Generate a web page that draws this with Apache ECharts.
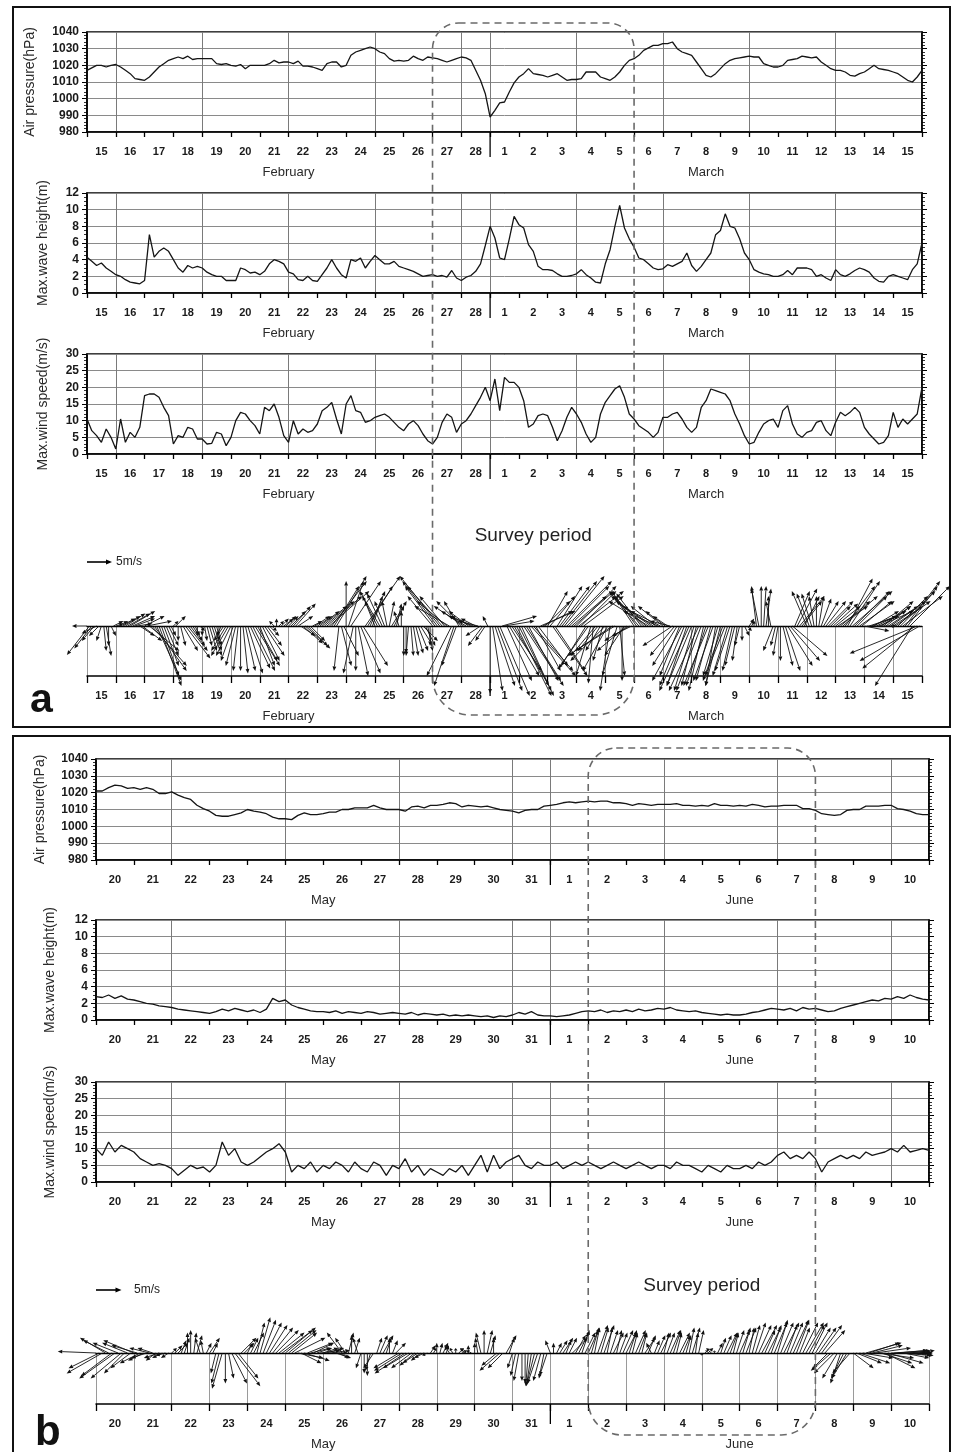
<!DOCTYPE html>
<html>
<head>
<meta charset="utf-8">
<script src="https://cdn.jsdelivr.net/npm/echarts/dist/echarts.min.js"></script>
<style>
  html, body { margin: 0; padding: 0; background: #fff; }
  #chart { width: 954px; height: 1452px; }
</style>
</head>
<body>
<div id="chart"></div>
<script>
// ---- time axes -------------------------------------------------------
const SPD = 6;   // line samples per day (4-hourly)
const VSPD = 12; // wind vectors per day (2-hourly)
const daysA = ['15','16','17','18','19','20','21','22','23','24','25','26','27','28',
               '1','2','3','4','5','6','7','8','9','10','11','12','13','14','15'];
const monthsA = [{ name: 'February', start: 0 }, { name: 'March', start: 14 }];
const daysB = ['20','21','22','23','24','25','26','27','28','29','30','31',
               '1','2','3','4','5','6','7','8','9','10'];
const monthsB = [{ name: 'May', start: 0 }, { name: 'June', start: 12 }];
// survey period, as day offsets from the first day shown
const surveyA = [12, 19];
const surveyB = [13, 19];

// ---- February–March record --------------------------------------------
const pressureA = [
  1017,1018.5,1020,1020,1019,1020, 1020.5,1019,1017,1015,1012,1011.5,
  1011,1013,1016,1019,1021,1023, 1024,1025,1024,1025.5,1023.5,1024,
  1024,1024,1024,1021,1020.5,1021, 1020,1019.5,1020.5,1018,1020,1020,
  1020,1020,1021,1023,1021.5,1022, 1022,1021,1022.5,1019.5,1019.5,1019,
  1018,1017,1021,1022,1022,1019, 1020,1026,1028,1029,1030,1031,
  1030,1028,1027,1024,1022.5,1023, 1022.5,1023,1025.5,1024,1023,1025,
  1024.5,1024,1023,1022,1023,1024, 1025,1024.5,1023,1017,1011,1003,
  989,993,997.5,998,1004,1009.5, 1013,1015,1018,1015,1014.5,1014,
  1013,1014,1015,1013,1011,1011.5, 1011.5,1012,1016,1016,1016,1013,
  1012,1011,1013,1016,1020,1023, 1024,1026,1029,1030.5,1032,1032,
  1033,1033,1034,1030,1028,1027, 1026,1022,1018,1014,1013,1015,
  1018,1021,1023,1024,1024.5,1025, 1025.5,1025,1025,1021,1020,1019,
  1019,1020,1023,1023.5,1024,1025.5, 1025,1024.5,1025,1022,1020,1018,
  1017,1017,1016,1014,1013.5,1015, 1016,1018,1020,1018,1017.5,1017,
  1016,1015,1013,1011,1010,1013, 1017
];
const waveA = [
  4.3,3.8,3.3,3.6,3.0,2.6, 2.2,2.0,1.6,1.3,1.2,1.1,
  1.5,7.0,4.3,5.0,5.4,5.0, 4.0,3.0,2.5,3.3,3.0,3.2,
  3.0,2.5,2.2,2.0,2.0,1.5, 1.5,1.5,3.0,2.8,2.4,2.5,
  2.2,2.6,3.5,4.0,3.8,3.5, 2.5,2.3,1.6,1.5,2.0,1.5,
  1.4,2.2,3.0,4.0,3.0,2.2, 1.8,4.0,3.8,4.2,3.0,3.8,
  4.5,4.0,3.5,3.5,3.8,3.2, 3.0,2.8,2.6,2.3,2.0,2.1,
  2.2,2.0,2.1,1.9,2.7,1.8, 1.5,1.9,2.1,2.6,3.5,5.7,
  8.0,6.6,4.2,4.0,6.5,9.2, 8.2,7.8,5.8,5.0,3.2,2.8,
  2.8,2.7,2.3,2.0,2.0,2.1, 2.3,2.8,2.2,1.8,1.3,1.2,
  3.5,5.2,8.0,10.5,7.8,6.5, 5.5,4.2,4.0,3.5,3.0,2.8,
  2.9,3.4,3.2,3.5,3.8,4.8, 3.3,2.6,3.2,4.0,4.8,7.0,
  7.5,9.5,8.0,7.8,6.5,4.8, 4.0,2.8,2.5,2.3,2.2,2.0,
  2.0,2.2,2.7,2.2,3.0,3.0, 3.0,2.8,2.0,2.2,1.8,1.5,
  2.8,2.2,2.0,2.3,2.7,3.0, 2.8,2.5,1.8,1.4,1.3,2.0,
  2.2,2.0,1.8,1.6,2.8,3.5, 6.0
];
const windA = [
  10.5,7.0,5.5,3.5,7.5,5.0, 1.5,10.5,3.5,6.5,5.0,8.0,
  17.5,18.0,18.0,17.0,14.0,11.5, 3.0,5.5,5.0,8.0,7.5,4.5,
  4.5,3.0,3.2,6.5,6.0,2.5, 5.0,10.0,12.5,12.0,10.0,8.5,
  6.0,14.0,13.0,15.0,11.0,5.5, 3.5,10.0,6.0,7.5,6.5,7.0,
  9.0,13.0,14.0,15.5,10.5,6.0, 15.0,17.5,13.0,12.5,9.5,10.0,
  11.0,11.5,12.0,11.0,9.5,8.0, 7.0,9.0,10.0,8.5,6.0,4.0,
  3.0,5.0,9.5,12.0,11.0,6.5, 9.0,10.0,12.0,14.5,17.0,20.0,
  16.0,22.5,13.0,23.0,21.5,21.5, 20.0,16.0,8.0,9.0,11.5,12.0,
  11.5,8.0,4.0,7.0,11.0,14.0, 12.0,9.5,6.0,3.5,5.0,12.0,
  15.5,17.5,19.5,20.5,17.0,12.0, 10.5,8.5,7.5,6.5,5.0,6.5,
  11.0,11.0,12.0,12.5,10.5,8.0, 6.5,8.0,14.0,16.0,19.5,19.0,
  18.5,18.0,16.0,12.0,9.0,5.5, 3.0,3.5,6.5,9.0,10.0,10.5,
  8.0,13.0,14.5,9.0,6.0,5.0, 6.5,7.0,9.5,10.0,7.0,5.5,
  9.5,12.5,11.5,12.5,14.0,12.5, 8.0,6.0,4.5,3.0,3.5,5.5,
  12.5,8.0,10.5,9.0,10.5,12.0, 20.0
];
// wind vectors [u (east), v (north)] in m/s, one row per day
const windVecA = [
  [-3,0],[-4.5,-5.8],[-3.5,-4.5],[-2.5,-3],[-3,-1.5],[-2,-2],[-1,-3],[0.5,-5],[1,-6],[0,-4],[1,-2],[2,1],
  [1.5,0.5],[2,1],[3,1.5],[3.5,2],[4,2.5],[4.5,2.5],[5,3],[4.5,2],[4,1.5],[3,0.5],[3,-2],[4,-3],
  [4,2],[5,1],[6,-5],[7,-8],[6.5,-9],[5,-11],[4.5,-12],[3.5,-10],[3,-8],[2.5,-6],[2,-4],[1,-2],
  [1,1],[2,2],[0,-3],[1,-4],[3,-5],[5,-6.5],[4,-5],[3,-4],[2,-3],[1,-2],[0,-2],[1,-1],
  [0,-2],[0.5,-3],[1,-4],[1.5,-5],[2,-6],[1.5,-5],[1,-4],[0,-3],[-1,-2],[-2,-3],[-3,-5],[-3.5,-6],
  [-3,-6],[-2.5,-7],[-2,-8],[-1,-9],[0,-9],[1,-9.5],[2,-9],[3,-9.5],[4,-8.5],[4.5,-9],[5,-8],[4,-7],
  [3,-8],[3.5,-7],[4,-6],[3,-4],[2,-2],[1,-1],[-1,1],[0,1.5],[1,1],[1.5,1.5],[2,1.5],[2,2],
  [2,2],[3,3],[3.5,4],[4,4.5],[3,2],[3,-2],[4,-3.5],[5,-4.5],[4,-4],[3,-3],[2,1],[3,2],
  [3,2],[4,3],[5,4],[6,5],[7,6],[8,7],[7,9],[5,8],[6,10],[-1,-9],[2,-8],[3,-6],
  [0,9],[3,9],[6,9],[-2,-9.5],[0,-9],[2,-10],[4,-9.5],[5,-8],[7,10],[5,8],[3,7],[2,6],
  [-2,5],[-3,6],[-4,7],[-3,6.5],[-2,5],[-1,5],[1,5],[3,5],[2,4],[1,4.5],[-1,3],[0,3],
  [0,-6],[0,-5.5],[-0.5,-6],[0.5,-6],[1,-6],[1.5,-5.5],[2,-5],[2.5,-4],[3,-3],[2,-4],[1,-5],[0,-4],
  [-5,6],[-6,8],[-7,9],[-8,10],[-7,8],[-5,6],[-6,5],[-7,4],[-5,-10],[-4,-12],[-3,-8],[-3,5],
  [-5,5],[-6,4],[-5,3],[-4,3],[-4,2],[-5,2],[-3,1.5],[-4,1],[-3,-2],[-3,-4],[-2,-3],[-1,2],
  [0,-13.5],[2,-13],[4,-12],[5,-13],[6,-14],[7,2],[6,1],[5,-11],[6,-10],[6,-9],[7,-12],[7,-14],
  [7,-14],[6,-13],[8,-12],[7,-11],[6,-11],[9,-10],[8,-9],[5,-9],[6,-8],[7,3],[6,3],[5,5],
  [4,7],[5,6],[7,-10],[6,-9],[5,8],[6,8],[7,9],[8,10],[9,9],[8,8],[7,6],[8,7],
  [8,8],[9,7],[7,7],[8,6],[-5,-8],[-6,-8.5],[-3,-10],[-1,-11.5],[-5,-6],[-4,-5],[-3,-5],[-2,-7],
  [-7,-7],[-5,-9],[-2,-13],[-9,-6],[-8,-5],[-3,-10],[1,-10],[0,-11],[-4,-6],[-6,-5],[-5,-3],[-4,-2],
  [-4,6],[-5,7],[-6,7],[-5,6.5],[-6,6],[-7,6],[-8,5],[-7,5],[-6,4],[-5,4],[-7,3],[-6,3],
  [-5,4],[-4,3],[-3,2],[-4,1],[-6,-4],[-5,-6],[-5,-8],[-4,-10],[-6,-11],[-5,-12],[-4,-12],[-6,-13],
  [-5,-12],[-4,-13],[-3,-12],[-6,-13],[-5,-13],[-3,-13],[-4,-12],[-5,-12],[-3,-11],[-4,-11],[-2,-12],[-3,-10],
  [-3,-12],[-4,-11],[-4,-10],[-3,-10],[-3,-9],[-2,-9],[-2,-8],[-1,-7],[-1,-4],[0,-3],[1,-2],[1,-1],
  [1,1.5],[0.5,1],[0,1],[-1,8],[-1.5,7.5],[0,8],[0.5,8],[1,7.5],[0,6],[-1,5],[-2,-5],[-1,-4],
  [-1,-6],[0,-7],[2,-8],[3,-9],[5,-8],[6,-7],[7,-6],[3,7],[4,7.5],[5,6],[4,5],[3,6],
  [-3,7],[-2.5,6.5],[-2,6.5],[-1,6],[0,6],[1,6],[2,5.5],[3,5],[4,5],[5,5],[4,4],[5,4.5],
  [5,4],[6,4],[6,5],[7,6],[6,8],[5,9.5],[6,9],[8,7],[7,7],[6,6],[7,5],[6,5],
  [5,-1],[6,0],[6,2],[5,2],[5,3],[6,3],[7,3],[6,4],[6,5],[5,4],[6,4],[7,5],
  [6,4],[7,5],[6,6],[7,7],[8,6],[7,9],[6,8],[8,8],[-7.5,-12],[-10.5,-8.5],[-13.5,-5.5],[-12,-7]
];

// ---- May–June record ---------------------------------------------------
const pressureB = [
  1021,1021,1023,1024.5,1024,1022.5, 1023,1022,1023,1022,1019.5,1019.5,
  1020.5,1018.5,1017,1016,1012.5,1010.5, 1009,1006.5,1006,1006,1007,1008,
  1010,1009,1008.5,1007.5,1005.5,1004.5, 1004.5,1004,1006.5,1008,1007,1007,
  1007.5,1008.5,1008.5,1010,1010,1011, 1011,1011,1012.5,1011,1010,1010,
  1010,1009,1011.5,1012,1011,1012.5, 1012.5,1013,1014,1013.5,1011.5,1012.5,
  1012,1011.5,1012,1011,1010,1009.5, 1009,1008,1009.5,1010,1010,1012,
  1012.5,1013,1014,1014.5,1014,1014.5, 1015,1014.5,1015,1015,1014,1014,
  1013.5,1012.5,1013.5,1013,1012.5,1013, 1013,1013,1013.5,1012.5,1012.5,1012,
  1012.5,1012,1013.5,1012.5,1012.5,1012, 1012.5,1012,1013,1012.5,1011.5,1012,
  1012,1012.5,1012.5,1012.5,1010.5,1010.5, 1009.5,1007.5,1007,1006.5,1007,1009.5,
  1010,1010,1012,1012,1012,1012.5, 1012.5,1010.5,1010,1009,1007.5,1007, 1007
];
const waveB = [
  2.8,2.7,3.0,2.6,2.9,2.5, 2.4,2.2,2.0,1.9,1.7,1.6,
  1.5,1.3,1.2,1.1,1.0,0.9, 0.8,1.0,1.3,1.1,1.4,1.2,
  1.0,1.2,0.9,1.3,2.6,2.2, 2.4,1.8,1.5,1.3,1.1,1.0,
  1.0,0.9,1.1,0.8,1.0,0.9, 0.8,1.0,0.9,0.7,0.8,0.9,
  0.8,0.7,0.9,0.6,0.8,0.7, 0.6,0.7,0.5,0.6,0.5,0.6,
  0.5,0.4,0.5,0.3,0.5,0.4, 0.6,0.9,0.7,1.0,0.6,0.5,
  0.5,0.4,0.5,0.6,0.8,1.0, 1.1,1.0,1.2,0.9,1.1,1.0,
  1.2,1.0,1.3,1.1,1.2,1.4, 1.3,1.5,1.2,1.1,1.0,1.1,
  0.9,0.8,0.7,0.6,0.7,0.6, 0.6,0.7,0.9,1.0,1.2,1.4,
  1.3,1.2,1.4,1.1,1.5,1.3, 1.4,1.2,1.0,1.1,1.4,1.6,
  1.8,2.0,2.2,2.4,2.3,2.6, 2.5,2.8,2.6,3.0,2.7,2.5, 2.4
];
const windB = [
  10,8,12,9,11,10, 9,7,6,5,5.5,5,
  4,2,3.5,5,4,4.5, 3,5,12,8,10,6,
  5,6,7.5,9,10,11.5, 9,3,5,4,6,3,
  5,4,6,5,3,6, 4,3,6,5,2,5,
  4,7,3,5,2,4, 3,2,4,3,5,2,
  5,8,3,8,4,6, 7,8,5,4,6,5,
  5,6,4,5,6,5, 6,5,4,5,6,5,
  4,5,6,5,4,5, 5,4,6,5,5,4,
  3,5,4,3,5,4, 4,5,4,6,5,6,
  8,9,7,8,7,9, 7,3,6,7,8,7,
  8,7,9,8,8.5,9, 10,9,11,9,9.5,10, 9.5
];
const windVecB = [
  [-7.5,0.3],[-6,-3],[-7,-4],[-5,3],[-5,2.5],[-6,-4.5],[-7,-5],[-5,2],[-6,-5],[-4,-4],[-5,2],[-4,-3],
  [-6,2.5],[-5,1.5],[-4,-2],[-3,-1.5],[-3,-1],[-4,1],[-3,1],[-2,-1.5],[-3,-1],[-2,-1],[-2,-0.5],[-1.5,-1],
  [1,1],[1.5,1.5],[2,2],[1,2.5],[1,3],[0,4],[0,4.5],[0.5,4],[1,3.5],[-1,3],[-0.5,2.5],[1,2],
  [2,3],[1,2],[-1,-4],[-1.5,-6],[-2,-7],[0,-6],[1,-5],[3,-6],[5,-6.5],[4,-5],[3,3],[2,2],
  [1,2],[1.5,3],[2,4],[1.5,6],[2,7],[2.5,6.5],[3,6],[3.5,5.5],[4,5],[4.5,4.5],[5,4],[6,4.5],
  [6,5],[5.5,4.5],[5,4],[6,3],[5,-1],[4,-2],[5,-1.5],[5,2],[4,1],[4,2],[3,1],[4,0.5],
  [3,1],[3.5,1],[4,0.5],[3,0],[3,-1],[2,-1],[-3,4],[-2,3],[1,4],[0,3.5],[1,3],[-1,3],
  [-1,-3],[0,-4],[0,-4.5],[-1,-3.5],[-2,-3],[1,3],[1.5,3.5],[2,3.5],[1,3],[0,3],[1,2.5],[2,2],
  [-5,-3],[-5.5,-3.5],[-6,-4],[-5,-3],[-4,-3],[-3,-2.5],[-3,-2],[-2,-1.5],[-2,-1],[-1,-0.5],[1,1.5],[0.5,1],
  [0,2],[0.5,2],[1,2],[0.5,1.5],[-1,1.5],[-0.5,1],[0,1],[1,1],[1,0.5],[-1,1],[0,1.5],[-1,0.5],
  [0,2],[-0.5,3],[-1,4],[0,4.5],[1,4.5],[1,3.5],[0,3],[-3,-2.5],[-4,-3.5],[-3,-3],[2,3.5],[1,3],
  [-1,-3],[-1,-4.5],[-1,-5.5],[0,-5.5],[0,-6],[-0.5,-6.5],[-1,-6.5],[-1.5,-6],[-2,-6],[-1.5,-5.5],[-1,-5],[-1.5,-4.5],
  [-1,2.5],[0,2],[1,2],[1.5,2.5],[2,3],[1,2.5],[1.5,3],[3,3],[2,3.5],[2,4],[1.5,4.5],[2,4],
  [2,4.5],[1.5,5],[1,5],[2,5.5],[1.5,5],[2,5.5],[1,5],[1.5,4.5],[2,4],[1,4.5],[1.5,4],[2,4.5],
  [2,4],[1.5,4.5],[1,4],[2,4.5],[1.5,4],[1,4],[2,3],[1.5,3.5],[-1,2],[1,2.5],[1.5,3.5],[2,4],
  [1,4],[1.5,4],[2,4.5],[1.5,4.5],[1,4],[2,4],[1.5,3.5],[1,3.5],[1,5],[1.5,5],[0.5,4],[1,4.5],
  [0,-0.5],[0.5,0.5],[1,1],[-1,1],[0,0.5],[1,2],[1,3],[1.5,3.5],[2,4],[1.5,4],[1,4],[1.5,4.5],
  [2,4.5],[1.5,5],[2,5],[1,5],[1.5,5.5],[2,6],[2.5,5.5],[3,5.5],[2,4.5],[2.5,5],[2,5.5],[2.5,6],
  [2,6.5],[2.5,6],[3,6],[2,5.5],[2.5,6],[3,6.5],[2.5,6.5],[2,5],[3,6],[3.5,6],[3,5.5],[3,6],
  [3,5],[3.5,5],[4,5.5],[4,4.5],[-3,-3],[-4,-3.5],[-4,-4],[-3,-5],[-2,-6],[-2.5,-5],[-3,-5],[-3.5,-4],
  [4,-3],[5,-2],[6,-2],[6,-1],[7,2],[6,2],[6,1.5],[7,1],[7,-1],[6,-2],[6,-3],[7,-2],
  [7,0],[6.5,0.5],[6,0.5],[6,-0.5],[5,-1],[5,0],[4,0.5],[4,-0.5],[3,0],[3,0.5],[2,0],[1,0]
];

// ---- scales -------------------------------------------------------------
const pressureScale = { min: 980, max: 1040, step: 10, minor: 5 };
const waveScale = { min: 0, max: 12, step: 2, minor: 4 };
const windScale = { min: 0, max: 30, step: 5, minor: 5 };
const VEC_RANGE = 10; // m/s shown below the zero line of a vector strip

// ---- chart construction --------------------------------------------------
const FONT = '"Liberation Sans", Arial, Helvetica, sans-serif';
const chart = echarts.init(document.getElementById('chart'), null, { renderer: 'canvas', width: 954, height: 1452 });
const option = { animation: false, backgroundColor: '#fff', grid: [], xAxis: [], yAxis: [], series: [] };
const strips = [];

function dayAxis(g, days, tickLen, splitInterval, splitColor) {
  return {
    type: 'category', gridIndex: g, data: days, boundaryGap: true, position: 'bottom',
    axisLine: { show: true, onZero: false, lineStyle: { color: '#000', width: 1.5 } },
    axisTick: { show: true, interval: 0, length: tickLen, lineStyle: { color: '#000', width: 1.3 } },
    axisLabel: { interval: 0, margin: 14, fontFamily: FONT, fontWeight: 'bold', fontSize: 11, color: '#1a1a1a' },
    splitLine: { show: true, interval: splitInterval, lineStyle: { color: splitColor, width: 1 } }
  };
}
const everyThirdDay = (idx, val) => Number(val) % 3 === 1;

function addLineStrip(box, days, months, scale, values, name, nameGap) {
  const g = option.grid.length;
  option.grid.push({ left: box.left, top: box.top, width: box.width, height: box.height,
    show: true, borderColor: '#000', borderWidth: 1.6, backgroundColor: 'transparent' });
  const xv = option.xAxis.length;
  option.xAxis.push({ type: 'value', gridIndex: g, min: 0, max: days.length, show: false });
  option.xAxis.push(dayAxis(g, days, 5, everyThirdDay, '#7a7a7a'));
  const yl = option.yAxis.length;
  const yBase = {
    type: 'value', gridIndex: g, min: scale.min, max: scale.max, interval: scale.step,
    axisLine: { show: true, onZero: false, lineStyle: { color: '#000', width: 1.5 } },
    axisTick: { show: true, length: 5, lineStyle: { color: '#000', width: 1 } },
    minorTick: { show: true, splitNumber: scale.minor, length: 3, lineStyle: { color: '#000', width: 0.8 } }
  };
  option.yAxis.push(Object.assign({}, yBase, {
    position: 'left', name: name, nameLocation: 'middle', nameGap: nameGap,
    nameTextStyle: { fontFamily: FONT, fontSize: 14, color: '#2a2a2a' },
    axisLabel: { margin: 8, fontFamily: FONT, fontWeight: 'bold', fontSize: 12, color: '#1a1a1a',
                 formatter: v => String(v) },
    splitLine: { show: true, lineStyle: { color: '#8a8a8a', width: 1 } }
  }));
  option.yAxis.push(Object.assign({}, yBase, {
    position: 'right', axisLabel: { show: false }, splitLine: { show: false }
  }));
  option.series.push({
    type: 'line', xAxisIndex: xv, yAxisIndex: yl, showSymbol: false, silent: true,
    data: values.map((v, i) => [i / SPD, v]),
    lineStyle: { color: '#151515', width: 1.3 }
  });
  strips.push({ g, xv, yl, days, months, yMin: scale.min, monthTick: 25, labelGap: 40 });
}

function renderArrow(params, api) {
  const base = api.coord([api.value(0), 0]);
  const k = api.size([0, 1])[1];            // pixels per m/s
  const tip = [base[0] + api.value(1) * k, base[1] - api.value(2) * k];
  const dx = tip[0] - base[0], dy = tip[1] - base[1];
  const len = Math.hypot(dx, dy) || 1;
  const ux = dx / len, uy = dy / len;
  const hl = Math.min(4.5, len * 0.5), hw = 1.9;
  const bx = tip[0] - ux * hl, by = tip[1] - uy * hl;
  return {
    type: 'group',
    children: [
      { type: 'line', shape: { x1: base[0], y1: base[1], x2: bx, y2: by },
        style: { stroke: '#111', lineWidth: 0.9 } },
      { type: 'polygon', shape: { points: [tip, [bx - uy * hw, by + ux * hw], [bx + uy * hw, by - ux * hw]] },
        style: { fill: '#111' } }
    ]
  };
}

function addVectorStrip(box, days, months, vecs) {
  const g = option.grid.length;
  option.grid.push({ left: box.left, top: box.top, width: box.width, height: box.height, show: false });
  const xv = option.xAxis.length;
  // data axis, drawn along the top of the strip as the zero line
  option.xAxis.push({ type: 'value', gridIndex: g, min: 0, max: days.length, position: 'top',
    axisLine: { show: true, onZero: false, lineStyle: { color: '#000', width: 1.3 } },
    axisTick: { show: false }, axisLabel: { show: false }, splitLine: { show: false } });
  option.xAxis.push(dayAxis(g, days, 7, 0, '#9a9a9a'));
  const yl = option.yAxis.length;
  option.yAxis.push({ type: 'value', gridIndex: g, min: -VEC_RANGE, max: 0, show: false });
  option.series.push({
    type: 'custom', xAxisIndex: xv, yAxisIndex: yl, clip: false, silent: true,
    renderItem: renderArrow,
    data: vecs.map((w, i) => [i / VSPD, w[0], w[1]])
  });
  strips.push({ g, xv, yl, days, months, yMin: -VEC_RANGE, monthTick: 20, labelGap: 40, vector: true });
}

// panel a (February–March)
const boxA = { left: 87, width: 835 };
addLineStrip(Object.assign({ top: 32, height: 100 }, boxA), daysA, monthsA, pressureScale, pressureA, 'Air pressure(hPa)', 50);
addLineStrip(Object.assign({ top: 193, height: 100 }, boxA), daysA, monthsA, waveScale, waveA, 'Max.wave height(m)', 37);
addLineStrip(Object.assign({ top: 354, height: 100 }, boxA), daysA, monthsA, windScale, windA, 'Max.wind speed(m/s)', 37);
addVectorStrip(Object.assign({ top: 626, height: 50 }, boxA), daysA, monthsA, windVecA);
// panel b (May–June)
const boxB = { left: 96, width: 833 };
addLineStrip(Object.assign({ top: 759, height: 101 }, boxB), daysB, monthsB, pressureScale, pressureB, 'Air pressure(hPa)', 49);
addLineStrip(Object.assign({ top: 920, height: 100 }, boxB), daysB, monthsB, waveScale, waveB, 'Max.wave height(m)', 39);
addLineStrip(Object.assign({ top: 1082, height: 100 }, boxB), daysB, monthsB, windScale, windB, 'Max.wind speed(m/s)', 39);
addVectorStrip(Object.assign({ top: 1353, height: 51 }, boxB), daysB, monthsB, windVecB);

chart.setOption(option);

// ---- annotations placed through the axes' own scales -----------------------
const X = (s, v) => chart.convertToPixel({ xAxisIndex: s.xv }, v);
const Y = (s, v) => chart.convertToPixel({ yAxisIndex: s.yl }, v);
const gfx = [];

strips.forEach(s => {
  const yb = Y(s, s.yMin);
  s.months.forEach((m, k) => {
    const end = k + 1 < s.months.length ? s.months[k + 1].start : s.days.length;
    gfx.push({ type: 'text', x: X(s, (m.start + end) / 2), y: yb + s.labelGap, silent: true,
      style: { text: m.name, fontFamily: FONT, fontSize: 13, fill: '#2a2a2a', align: 'center', verticalAlign: 'middle' } });
    if (m.start > 0) {
      const xm = X(s, m.start);
      gfx.push({ type: 'line', silent: true, shape: { x1: xm, y1: yb, x2: xm, y2: yb + s.monthTick },
        style: { stroke: '#000', lineWidth: 1.3 } });
    }
  });
});

function surveyBox(s, span, top, bottom, rTop, rBottom, textY) {
  const x0 = X(s, span[0]), x1 = X(s, span[1]);
  gfx.push({ type: 'rect', silent: true, z: 100,
    shape: { x: x0, y: top, width: x1 - x0, height: bottom - top, r: [rTop, rTop, rBottom, rBottom] },
    style: { fill: 'none', stroke: '#6a6a6a', lineWidth: 1.6, lineDash: [7, 5] } });
  gfx.push({ type: 'text', silent: true, z: 100, x: (x0 + x1) / 2, y: textY,
    style: { text: 'Survey period', fontFamily: FONT, fontSize: 19, fill: '#222', align: 'center', verticalAlign: 'middle' } });
}
surveyBox(strips[0], surveyA, 23, 715, 26, 38, 536);
surveyBox(strips[4], surveyB, 748, 1435, 28, 34, 1286);

function scaleArrow(s, y, textX) {
  const len = Math.abs(Y(s, 0) - Y(s, -5));   // 5 m/s at strip scale
  const x0 = X(s, 0), x1 = x0 + len;
  gfx.push({ type: 'line', silent: true, shape: { x1: x0, y1: y, x2: x1 - 5, y2: y }, style: { stroke: '#000', lineWidth: 1.6 } });
  gfx.push({ type: 'polygon', silent: true, shape: { points: [[x1, y], [x1 - 6, y - 2.5], [x1 - 6, y + 2.5]] }, style: { fill: '#000' } });
  gfx.push({ type: 'text', silent: true, x: textX, y: y,
    style: { text: '5m/s', fontFamily: FONT, fontSize: 12, fill: '#222', align: 'left', verticalAlign: 'middle' } });
}
scaleArrow(strips[3], 562, 116);
scaleArrow(strips[7], 1290, 134);

// panel frames and letters
gfx.push({ type: 'rect', silent: true, shape: { x: 13, y: 7, width: 937, height: 720 },
  style: { fill: 'none', stroke: '#111', lineWidth: 2 } });
gfx.push({ type: 'rect', silent: true, shape: { x: 13, y: 736, width: 937, height: 740 },
  style: { fill: 'none', stroke: '#111', lineWidth: 2 } });
gfx.push({ type: 'text', silent: true, x: 30, y: 701,
  style: { text: 'a', fontFamily: FONT, fontWeight: 'bold', fontSize: 41, fill: '#111', align: 'left', verticalAlign: 'middle' } });
gfx.push({ type: 'text', silent: true, x: 35, y: 1433,
  style: { text: 'b', fontFamily: FONT, fontWeight: 'bold', fontSize: 42, fill: '#111', align: 'left', verticalAlign: 'middle' } });

chart.setOption({ graphic: { elements: gfx } });
</script>
</body>
</html>
